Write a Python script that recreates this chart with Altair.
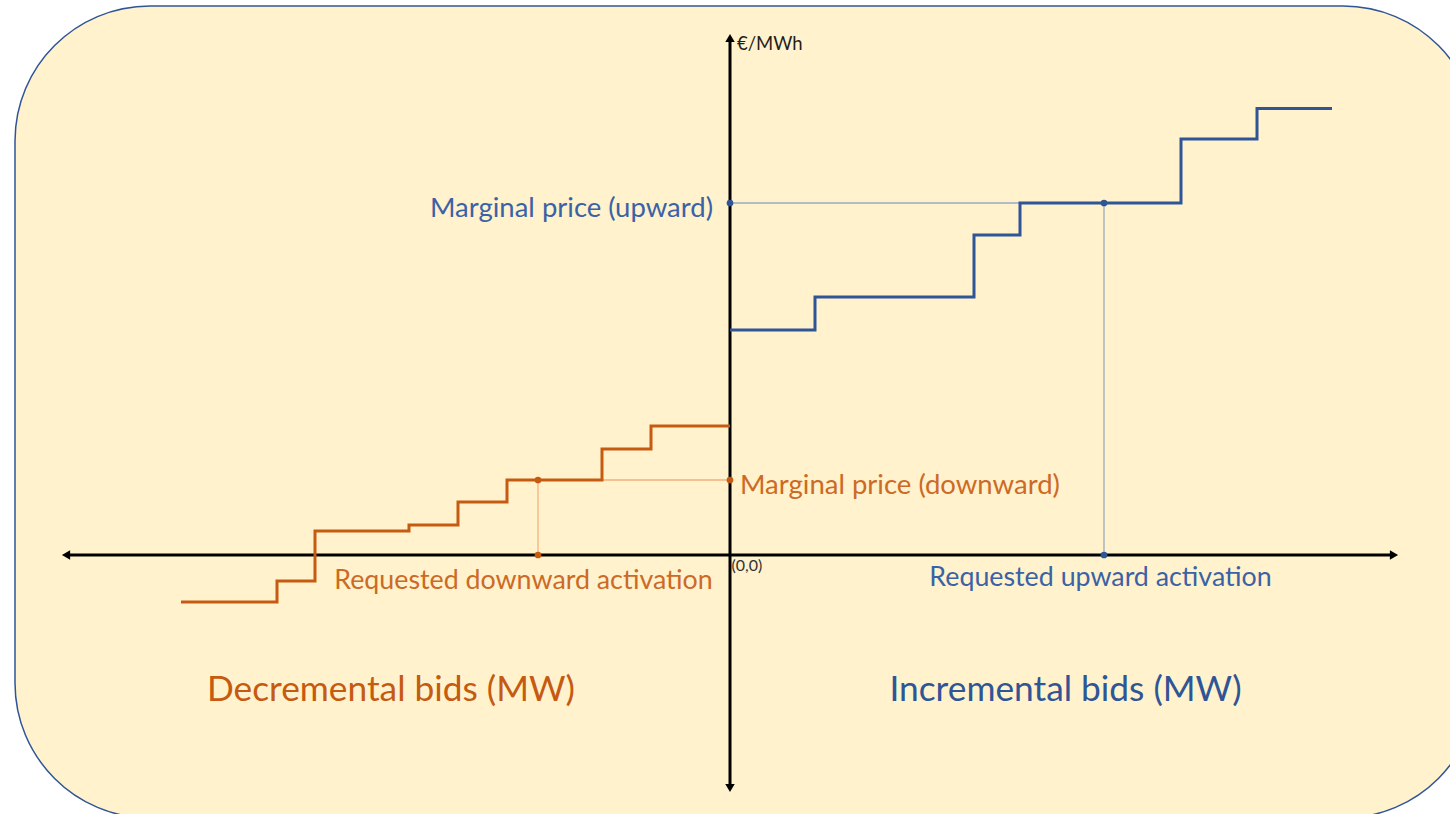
import altair as alt
import pandas as pd

# ---- data (x in MW-like units, y in €/MWh-like units) ----
# Decremental (downward) bid curve: breakpoints along x and price level of each step
DEC_X = [-54.9, -45.3, -41.5, -32.1, -27.2, -22.3, -12.8, -7.9, 0.0]
DEC_Y = [-4.7, -2.6, 2.4, 3.0, 5.3, 7.5, 10.6, 12.9]

# Incremental (upward) bid curve
INC_X = [0.0, 8.5, 24.4, 29.0, 45.1, 52.7, 60.2]
INC_Y = [22.5, 25.8, 32.0, 35.2, 41.6, 44.65]

UP_PRICE = 35.2      # marginal price (upward)
UP_STEP_X = 29.0     # where the upward price level starts
UP_ACT = 37.4        # requested upward activation
DOWN_PRICE = 7.5     # marginal price (downward)
DOWN_STEP_X = -12.8  # where the downward price level ends
DOWN_ACT = -19.2     # requested downward activation

AXIS_X = [-66.4, 66.4]
AXIS_Y = [-23.3, 51.7]

BLUE = "#2F5597"
BLUE_TXT = "#3B62A6"
ORANGE = "#C55A11"
ORANGE_TXT = "#CC6A26"
FONT = "Lato"

xs = alt.Scale(domain=[-73.0, 72.0], nice=False, zero=False)
ys = alt.Scale(domain=[-25.9, 55.5], nice=False, zero=False)


def X(f="x"):
    return alt.X(f, type="quantitative", scale=xs, axis=None)


def Y(f="y"):
    return alt.Y(f, type="quantitative", scale=ys, axis=None)


def steps(xb, yl):
    rows = [{"x": xb[i], "y": yl[i], "o": i} for i in range(len(yl))]
    rows.append({"x": xb[-1], "y": yl[-1], "o": len(yl)})
    return pd.DataFrame(rows)


# background panel
bg = alt.Chart(pd.DataFrame([{"x": -71.5, "x2": 74.8, "y": 54.9, "y2": -26.3}])).mark_rect(
    cornerRadius=135, fill="#FFF2CC", stroke=BLUE, strokeWidth=1.5
).encode(x=X(), x2="x2:Q", y=Y(), y2="y2:Q")

# guide lines
guides_blue = alt.Chart(pd.DataFrame([
    {"x": 0, "x2": UP_STEP_X, "y": UP_PRICE, "y2": UP_PRICE},
    {"x": UP_ACT, "x2": UP_ACT, "y": 0, "y2": UP_PRICE},
])).mark_rule(color="#9AAAC2", strokeWidth=1.3).encode(x=X(), x2="x2:Q", y=Y(), y2="y2:Q")

guides_orange = alt.Chart(pd.DataFrame([
    {"x": DOWN_STEP_X, "x2": 0, "y": DOWN_PRICE, "y2": DOWN_PRICE},
    {"x": DOWN_ACT, "x2": DOWN_ACT, "y": 0, "y2": DOWN_PRICE},
])).mark_rule(color="#F0B27F", strokeWidth=1.3).encode(x=X(), x2="x2:Q", y=Y(), y2="y2:Q")

# axes
axes = alt.Chart(pd.DataFrame([
    {"x": AXIS_X[0], "x2": AXIS_X[1], "y": 0, "y2": 0},
    {"x": 0, "x2": 0, "y": AXIS_Y[0], "y2": AXIS_Y[1]},
])).mark_rule(color="black", strokeWidth=3).encode(x=X(), x2="x2:Q", y=Y(), y2="y2:Q")

arrows = alt.Chart(pd.DataFrame([
    {"x": AXIS_X[0], "y": 0, "s": "triangle-left"},
    {"x": AXIS_X[1], "y": 0, "s": "triangle-right"},
    {"x": 0, "y": AXIS_Y[0], "s": "triangle-down"},
    {"x": 0, "y": AXIS_Y[1], "s": "triangle-up"},
])).mark_point(filled=True, color="black", size=90, opacity=1).encode(
    x=X(), y=Y(), shape=alt.Shape("s:N", scale=None)
)

# bid curves
dec = alt.Chart(steps(DEC_X, DEC_Y)).mark_line(
    interpolate="step-after", color=ORANGE, strokeWidth=3
).encode(x=X(), y=Y(), order="o:Q")

inc = alt.Chart(steps(INC_X, INC_Y)).mark_line(
    interpolate="step-after", color=BLUE, strokeWidth=3
).encode(x=X(), y=Y(), order="o:Q")

dots_blue = alt.Chart(pd.DataFrame([
    {"x": 0, "y": UP_PRICE}, {"x": UP_ACT, "y": UP_PRICE}, {"x": UP_ACT, "y": 0},
])).mark_circle(color=BLUE, size=45, opacity=1).encode(x=X(), y=Y())

dots_orange = alt.Chart(pd.DataFrame([
    {"x": 0, "y": DOWN_PRICE}, {"x": DOWN_ACT, "y": DOWN_PRICE}, {"x": DOWN_ACT, "y": 0},
])).mark_circle(color=ORANGE, size=45, opacity=1).encode(x=X(), y=Y())


def label(text, x, y, color, size, align):
    return alt.Chart(pd.DataFrame([{"x": x, "y": y, "t": text}])).mark_text(
        font=FONT, fontSize=size, color=color, align=align, baseline="middle"
    ).encode(x=X(), y=Y(), text="t:N")


labels = [
    label("€/MWh", 0.7, 51.1, "#1E1E1E", 18.5, "left"),
    label("Marginal price (upward)", -1.7, 34.6, BLUE_TXT, 27.5, "right"),
    label("Marginal price (downward)", 1.0, 6.9, ORANGE_TXT, 27.5, "left"),
    label("Requested downward activation", -20.65, -2.6, ORANGE_TXT, 26.8, "center"),
    label("Requested upward activation", 37.05, -2.3, BLUE_TXT, 26.8, "center"),
    label("(0,0)", 0.15, -1.1, "#333333", 16, "left"),
    label("Decremental bids (MW)", -33.9, -13.5, ORANGE, 35.3, "center"),
    label("Incremental bids (MW)", 33.55, -13.5, BLUE, 35.3, "center"),
]

chart = alt.layer(
    bg, guides_blue, guides_orange, axes, arrows, dec, inc, dots_blue, dots_orange, *labels
).properties(
    width=1450, height=814, padding=0, background="white",
    autosize=alt.AutoSizeParams(type="none"),
).configure_view(stroke=None)

chart.save("out.html", embed_options={"renderer": "svg", "actions": False})
